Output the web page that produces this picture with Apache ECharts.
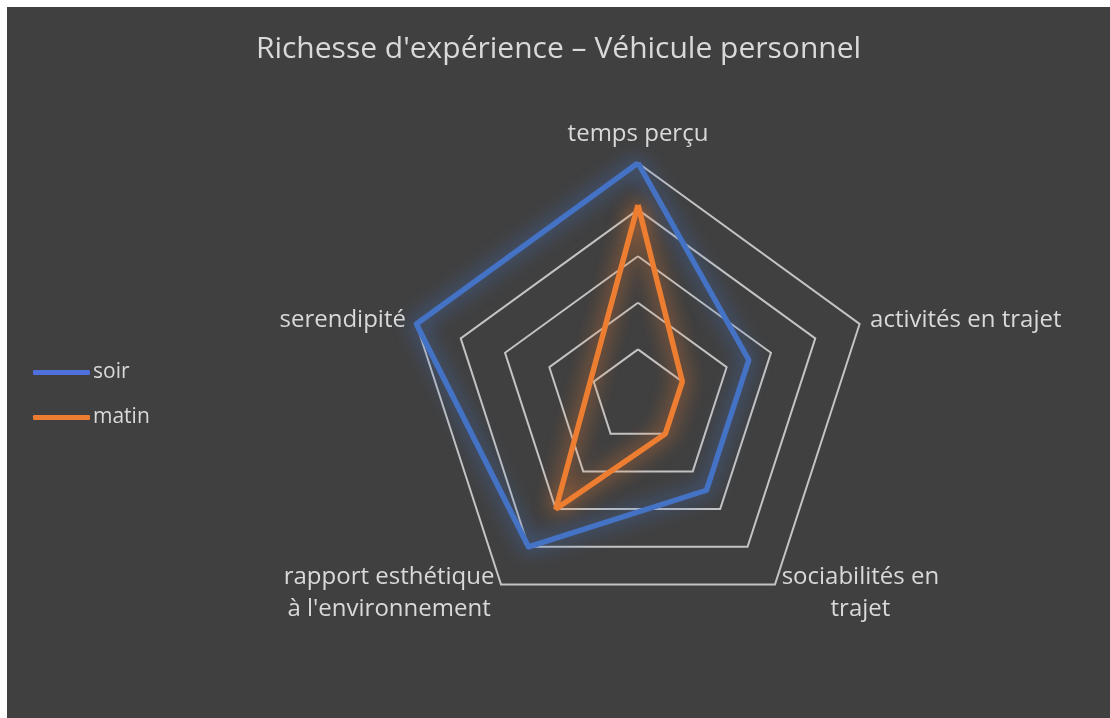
<!DOCTYPE html>
<html>
<head>
<meta charset="utf-8">
<script src="https://cdn.jsdelivr.net/npm/echarts@6/dist/echarts.min.js"></script>
<style>
  html, body { margin: 0; padding: 0; background: #ffffff; }
  #chart { position: absolute; left: 7px; top: 7px; width: 1103px; height: 711px; }
</style>
</head>
<body>
<div id="chart"></div>
<script>
// axes clockwise from the top, as in the picture
const indicators = [
  'temps perçu',
  'activités en trajet',
  'sociabilités en\ntrajet',
  "rapport esthétique\nà l'environnement",
  'serendipité'
];
const soir = [5, 2.5, 2.5, 4, 5];
const matin = [4.1, 1, 1, 3, null]; // pas de valeur pour serendipité le matin

const font = 'Open Sans';
const labelSize = 24;
const labelColor = '#d9d9d9';

// echarts puts radar axes counter-clockwise, so flip the order after the first one
const ccw = [0, 4, 3, 2, 1];
const pick = arr => ccw.map(i => arr[i]);

// matin is drawn as a closed polar line (angle = axis index) so the
// missing point is skipped instead of being pulled to the centre
const matinLoop = matin.concat(matin[0]).map((v, i) => [v, i]);

const ctx = document.createElement('canvas').getContext('2d');
ctx.font = labelSize + 'px "' + font + '"';
const lineWidth = lines => Math.ceil(Math.max(...lines.map(l => ctx.measureText(l).width)));

const rich = { top: { padding: [0, 0, 4, 0], fontSize: labelSize, fontFamily: font, color: labelColor } };
indicators.forEach(n => {
  const lines = n.split('\n');
  if (lines.length > 1) {
    const w = lineWidth(lines);
    rich['c' + w] = { width: w, align: 'center', lineHeight: 32, fontSize: labelSize, fontFamily: font, color: labelColor };
  }
});
function nameFormatter(name) {
  const lines = name.split('\n');
  if (lines.length === 1) {
    return name === 'temps perçu' ? '{top|' + name + '}' : name;
  }
  const w = lineWidth(lines);
  return lines.map(l => '{c' + w + '|' + l + '}').join('\n');
}

const myChart = echarts.init(document.getElementById('chart'));

const option = {
  backgroundColor: '#404040',
  title: {
    text: "Richesse d'expérience – Véhicule personnel",
    left: 'center',
    top: 22,
    textStyle: { color: labelColor, fontSize: 30, fontWeight: 'normal', fontFamily: font }
  },
  legend: {
    orient: 'vertical',
    left: 26,
    top: 355,
    padding: 0,
    itemWidth: 57,
    itemHeight: 5,
    itemGap: 24,
    icon: 'roundRect',
    textStyle: { color: labelColor, fontSize: 21, fontFamily: font, padding: [0, 0, 0, -2] },
    data: ['soir', 'matin']
  },
  radar: {
    center: [631, 389],
    radius: 233,
    startAngle: 90,
    splitNumber: 5,
    shape: 'polygon',
    indicator: pick(indicators).map(n => ({ name: n, min: 0, max: 5 })),
    axisName: {
      color: labelColor, fontSize: labelSize, fontFamily: font, lineHeight: 32,
      formatter: nameFormatter, rich: rich
    },
    nameGap: 11,
    axisLine: { show: false },
    axisTick: { show: false },
    splitArea: { show: false },
    splitLine: { lineStyle: { color: '#c4c4c4', width: 2 } }
  },
  polar: { center: [631, 389], radius: 233 },
  angleAxis: {
    type: 'value',
    min: 0,
    max: indicators.length,
    startAngle: 90,
    clockwise: true,
    show: false
  },
  radiusAxis: { min: 0, max: 5, show: false },
  series: [
    {
      type: 'radar',
      name: 'soir',
      symbol: 'none',
      data: [
        {
          name: 'soir',
          value: pick(soir),
          itemStyle: { color: '#4472c4' },
          lineStyle: { color: '#4472c4', width: 5.5, shadowBlur: 20, shadowColor: 'rgba(68,114,196,1)' }
        }
      ]
    },
    {
      type: 'line',
      name: 'matin',
      coordinateSystem: 'polar',
      data: matinLoop,
      connectNulls: true,
      symbol: 'none',
      itemStyle: { color: '#ed7d31' },
      lineStyle: { color: '#ed7d31', width: 5.5, shadowBlur: 20, shadowColor: 'rgba(237,125,49,1)' }
    }
  ]
};

myChart.setOption(option);
</script>
</body>
</html>
